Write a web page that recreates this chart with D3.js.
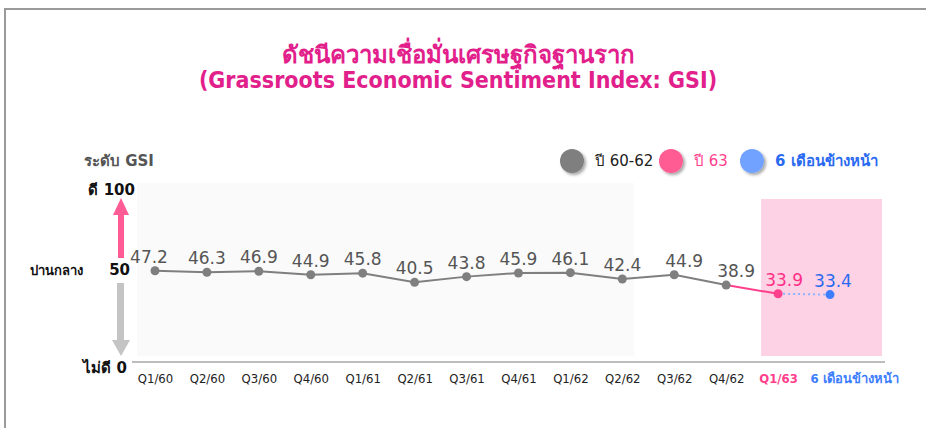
<!DOCTYPE html>
<html>
<head>
<meta charset="utf-8">
<script src="https://cdn.jsdelivr.net/npm/d3@7"></script>
<style>
  body { margin: 0; background: #fff; }
  svg { display: block; font-family: "DejaVu Sans", sans-serif; }
</style>
</head>
<body>
<svg id="gsiChart" width="926" height="428"></svg>
<script>
// categories (x axis)
const quarters = ["Q1/60", "Q2/60", "Q3/60", "Q4/60", "Q1/61", "Q2/61", "Q3/61", "Q4/61",
    "Q1/62", "Q2/62", "Q3/62", "Q4/62", "Q1/63", "6 เดือนข้างหน้า"];
// series
const past = [47.2, 46.3, 46.9, 44.9, 45.8, 40.5, 43.8, 45.9, 46.1, 42.4, 44.9, 38.9]; // ปี 60-62
const year63 = [33.9];      // Q1/63
const forecast = [33.4];    // 6 เดือนข้างหน้า
const legendLabels = ["ปี 60-62", "ปี 63", "6 เดือนข้างหน้า"];

const svg = d3.select("#gsiChart");

const grey = "#7f7f7f", pink = "#ff3f8c", blue = "#3d7eff";

// frame lines (top & left)
svg.append("line").attr("x1", 5).attr("x2", 926).attr("y1", 9).attr("y2", 9)
    .attr("stroke", "#9a9a9a").attr("stroke-width", 2);
svg.append("line").attr("x1", 5).attr("x2", 5).attr("y1", 8).attr("y2", 428)
    .attr("stroke", "#9a9a9a").attr("stroke-width", 2);

// title
const title = svg.append("text").attr("text-anchor", "middle")
    .attr("fill", "#e2208b").attr("font-weight", "bold")
    .style("font-family", "'DejaVu Sans Condensed', 'DejaVu Sans', sans-serif");
title.append("tspan").attr("x", 458).attr("y", 63).attr("font-size", 24)
    .text("ดัชนีความเชื่อมั่นเศรษฐกิจฐานราก");
title.append("tspan").attr("x", 458).attr("y", 88).attr("font-size", 23)
    .text("(Grassroots Economic Sentiment Index: GSI)");

const x = d3.scalePoint().domain(quarters).range([155, 830]);
const y = d3.scaleLinear().domain([0, 100]).range([352.4, 179.4]);

// backgrounds
svg.append("rect").attr("x", 137).attr("y", 183)
    .attr("width", x("Q2/62") + 12 - 137).attr("height", 356 - 183)
    .attr("fill", "#fafafa");
svg.append("rect").attr("x", x("Q1/63") - 17).attr("y", 199)
    .attr("width", x("6 เดือนข้างหน้า") + 52 - (x("Q1/63") - 17)).attr("height", 356 - 199)
    .attr("fill", "#fdd2e5");

// baseline axis
const xAxis = svg.append("g").attr("transform", "translate(0,362)")
    .call(d3.axisBottom(x).tickSize(0).tickPadding(12));
xAxis.select(".domain").attr("d", "M132,0H885").attr("stroke", "#bdbdbd").attr("stroke-width", 2);
xAxis.selectAll("text")
    .style("font-family", "'DejaVu Sans Condensed', 'DejaVu Sans', sans-serif")
    .attr("font-size", 13).attr("fill", "#222")
    .each(function (d) {
        const t = d3.select(this);
        if (d === "Q1/63") t.attr("fill", pink).attr("font-weight", "bold");
        if (d === "6 เดือนข้างหน้า") t.attr("fill", blue).attr("font-weight", "bold")
            .attr("text-anchor", "start").attr("x", -20);
    });

// left scale labels and arrows
const lbl = (tx, ty, s, anchor, size) => svg.append("text").attr("x", tx).attr("y", ty)
    .attr("text-anchor", anchor || "start").attr("font-weight", "bold")
    .attr("font-size", size || 14).attr("fill", "#111").text(s);
svg.append("text").attr("x", 84).attr("y", 166).attr("font-weight", "bold")
    .attr("font-size", 15).attr("fill", "#555").text("ระดับ GSI");
lbl(98, 195, "ดี", "end", 15);
lbl(135, 195, "100", "end", 15);
lbl(30, 275, "ปานกลาง", "start", 13);
lbl(130, 275, "50", "end", 15);
lbl(127, 373, "ไม่ดี 0", "end", 15);

svg.append("path").attr("d", "M118,258V215H113L121,198L129,215H124V258Z").attr("fill", "#ff5c96");
svg.append("path").attr("d", "M117,283V340H112L121,356L130,340H124V283Z").attr("fill", "#c4c4c4");

// lines
const line = d3.line().x(d => x(d.q)).y(d => y(d.v));
const pastPts = past.map((v, i) => ({ q: quarters[i], v }));
const p63 = year63.map((v, i) => ({ q: quarters[past.length + i], v }));
const pFc = forecast.map((v, i) => ({ q: quarters[past.length + year63.length + i], v }));

svg.append("path").datum(pastPts).attr("d", line)
    .attr("fill", "none").attr("stroke", grey).attr("stroke-width", 2);
svg.append("path").datum([pastPts[pastPts.length - 1], ...p63]).attr("d", line)
    .attr("fill", "none").attr("stroke", pink).attr("stroke-width", 2);
svg.append("path").datum([p63[p63.length - 1], ...pFc]).attr("d", line)
    .attr("fill", "none").attr("stroke", "#8fb3ff").attr("stroke-width", 2)
    .attr("stroke-dasharray", "2,3");

const groups = [
    { pts: pastPts, color: grey, text: "#555" },
    { pts: p63, color: pink, text: "#ff2f86" },
    { pts: pFc, color: blue, text: "#2a6af0" }
];
const nudge = { "Q1/60": -6, "Q3/62": 10, "Q4/62": 10, "Q1/63": 6, "6 เดือนข้างหน้า": 3 };
groups.forEach(g => {
    svg.append("g").selectAll("circle").data(g.pts).enter().append("circle")
        .attr("cx", d => x(d.q)).attr("cy", d => y(d.v)).attr("r", 4.5)
        .attr("fill", g.color);
    svg.append("g").selectAll("text").data(g.pts).enter().append("text")
        .attr("x", d => x(d.q) + (nudge[d.q] || 0)).attr("y", d => y(d.v) - 8)
        .attr("text-anchor", "middle").attr("font-size", 17).attr("fill", g.text)
        .text(d => d.v.toFixed(1));
});

// legend
const defs = svg.append("defs");
defs.append("filter").attr("id", "sh").attr("x", "-50%").attr("y", "-50%")
    .attr("width", "200%").attr("height", "200%")
    .append("feDropShadow").attr("dx", 2).attr("dy", 2).attr("stdDeviation", 1.5)
    .attr("flood-color", "#000").attr("flood-opacity", 0.35);
const legend = [
    { x: 572, fill: "#7f7f7f", text: "#222", weight: "normal" },
    { x: 671, fill: "#ff5b93", text: "#ff3f8c", weight: "normal" },
    { x: 752, fill: "#72a2ff", text: "#2a6af0", weight: "bold" }
];
legend.forEach((l, i) => {
    svg.append("circle").attr("cx", l.x).attr("cy", 161).attr("r", 12)
        .attr("fill", l.fill).attr("filter", "url(#sh)");
    svg.append("text").attr("x", l.x + 23).attr("y", 166).attr("font-size", 15)
        .attr("font-weight", l.weight).attr("fill", l.text).text(legendLabels[i]);
});
</script>
</body>
</html>
